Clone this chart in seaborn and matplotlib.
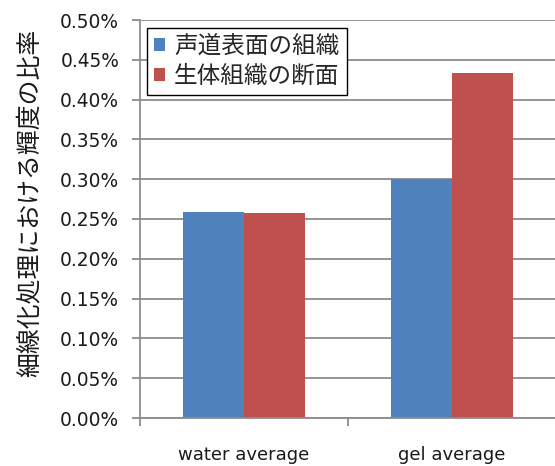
import matplotlib
matplotlib.use("Agg")
import matplotlib.pyplot as plt
import matplotlib.ticker as mticker
import seaborn as sns
import pandas as pd

# Data (ratios in percent)
categories = ["water average", "gel average"]
series_names = ["声道表面の組織", "生体組織の断面"]
surface_values = [0.259, 0.300]
section_values = [0.257, 0.433]
colors = ["#4F81BD", "#C0504D"]

rows = []
for cat, a, b in zip(categories, surface_values, section_values):
    rows.append({"category": cat, "series": series_names[0], "value": a})
    rows.append({"category": cat, "series": series_names[1], "value": b})
df = pd.DataFrame(rows)

sns.set_style("white")
jp = ["Noto Sans CJK JP", "DejaVu Sans"]
plt.rcParams["font.family"] = ["DejaVu Sans"]

fig = plt.figure(figsize=(5.55, 4.66), dpi=100)
ax = fig.add_axes([140 / 555, 48 / 466, 416 / 555, 398 / 466])

sns.barplot(data=df, x="category", y="value", hue="series", hue_order=series_names,
            order=categories, palette=colors, width=0.587, gap=0, saturation=1,
            edgecolor="none", linewidth=0, ax=ax)

ax.set_xlim(-0.5, 1.5)
ax.set_ylim(0, 0.5)
ax.set_yticks([i * 0.05 for i in range(11)])
ax.yaxis.set_major_formatter(mticker.FuncFormatter(lambda v, p: f"{v:.2f}%"))
ax.grid(axis="y", color="#8c8c8c", linewidth=1.3)
ax.set_axisbelow(True)

for s in ["top", "right"]:
    ax.spines[s].set_visible(False)
for s in ["left", "bottom"]:
    ax.spines[s].set_color("#8c8c8c")
    ax.spines[s].set_linewidth(1.3)

ax.tick_params(axis="y", length=6, width=1.3, color="#8c8c8c", pad=9,
               labelsize=13.4, labelcolor="#1a1a1a", left=True)
ax.set_xticks([0, 1])
ax.set_xticklabels(categories)
ax.tick_params(axis="x", which="major", length=0, pad=20, labelsize=13, labelcolor="#1a1a1a")
ax.set_xticks([-0.5, 0.5, 1.5], minor=True)
ax.tick_params(axis="x", which="minor", length=6, width=1.3, color="#8c8c8c", bottom=True)

ax.set_xlabel("")
ax.set_ylabel("細線化処理における輝度の比率", fontsize=17.9, family=jp, color="#1a1a1a")
ax.yaxis.set_label_coords(-0.235, 0.54)

handles, labels = ax.get_legend_handles_labels()
leg = ax.legend(handles, labels, loc="upper left", bbox_to_anchor=(0.017, 0.98),
                borderaxespad=0, fancybox=False, edgecolor="#000000", framealpha=1,
                prop={"family": jp, "size": 17}, handlelength=0.45, handleheight=0.45,
                handletextpad=0.4, labelspacing=0.3, borderpad=0.3)
leg.get_frame().set_linewidth(1.0)

fig.savefig("out.png", dpi=100)
